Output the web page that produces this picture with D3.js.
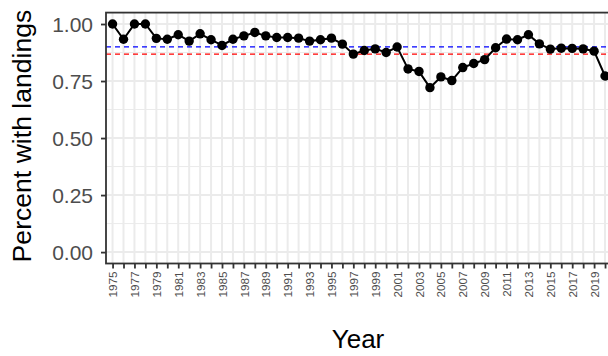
<!DOCTYPE html>
<html>
<head>
<meta charset="utf-8">
<script src="https://cdn.jsdelivr.net/npm/d3@7"></script>
<style>
  body { margin: 0; background: #fff; }
  svg { display: block; font-family: "Liberation Sans", Arial, sans-serif; }
</style>
</head>
<body>
<svg id="chart"></svg>
<script>
const width = 608;
const height = 356;

// data
const years = d3.range(1975, 2021);
const percents = [
  1.00, 0.933, 1.00, 1.00, 0.937, 0.933, 0.953, 0.925, 0.957, 0.931,
  0.906, 0.933, 0.948, 0.963, 0.948, 0.941, 0.941, 0.938, 0.925, 0.931,
  0.938, 0.912, 0.868, 0.884, 0.891, 0.875, 0.899, 0.803, 0.792, 0.721,
  0.768, 0.752, 0.809, 0.827, 0.844, 0.896, 0.934, 0.931, 0.953, 0.913,
  0.890, 0.894, 0.893, 0.891, 0.881, 0.772
];
const refLines = [
  { value: 0.900, color: '#0000ff' },
  { value: 0.868, color: '#ff0000' }
];
const yTicks = [0, 0.25, 0.5, 0.75, 1];
const yMinor = [0.125, 0.375, 0.625, 0.875];

const data = years.map((y, i) => ({ year: y, value: percents[i] }));

const panel = { left: 106, top: 12.6, right: 611.6, bottom: 263.5 };

const svg = d3.select('#chart')
  .attr('width', width)
  .attr('height', height);

const x = d3.scalePoint()
  .domain(years)
  .range([panel.left, panel.right])
  .padding(0.6);

const y = d3.scaleLinear()
  .domain([-0.05, 1.05])
  .range([panel.bottom, panel.top]);

// panel grid
const grid = svg.append('g');
grid.selectAll('.minor')
  .data(yMinor)
  .enter().append('line')
  .attr('x1', panel.left).attr('x2', panel.right)
  .attr('y1', d => y(d)).attr('y2', d => y(d))
  .attr('stroke', '#ebebeb')
  .attr('stroke-width', 1);
grid.selectAll('.hmajor')
  .data(yTicks)
  .enter().append('line')
  .attr('x1', panel.left).attr('x2', panel.right)
  .attr('y1', d => y(d)).attr('y2', d => y(d))
  .attr('stroke', '#ebebeb')
  .attr('stroke-width', 2);
grid.selectAll('.vmajor')
  .data(years)
  .enter().append('line')
  .attr('x1', d => x(d)).attr('x2', d => x(d))
  .attr('y1', panel.top).attr('y2', panel.bottom)
  .attr('stroke', '#ebebeb')
  .attr('stroke-width', 2);

// reference lines
svg.selectAll('.ref')
  .data(refLines)
  .enter().append('line')
  .attr('x1', panel.left).attr('x2', panel.right)
  .attr('y1', d => y(d.value)).attr('y2', d => y(d.value))
  .attr('stroke', d => d.color)
  .attr('stroke-width', 1.3)
  .attr('stroke-dasharray', '5,4');

// series
const line = d3.line()
  .x(d => x(d.year))
  .y(d => y(d.value));
svg.append('path')
  .datum(data)
  .attr('d', line)
  .attr('fill', 'none')
  .attr('stroke', '#000')
  .attr('stroke-width', 2);
svg.selectAll('.pt')
  .data(data)
  .enter().append('circle')
  .attr('cx', d => x(d.year))
  .attr('cy', d => y(d.value))
  .attr('r', 4.7)
  .attr('fill', '#000');

// panel border
svg.append('rect')
  .attr('x', panel.left).attr('y', panel.top)
  .attr('width', panel.right - panel.left)
  .attr('height', panel.bottom - panel.top)
  .attr('fill', 'none')
  .attr('stroke', '#333333')
  .attr('stroke-width', 1.8);

// y axis
const yAxis = svg.append('g')
  .attr('transform', `translate(${panel.left},0)`)
  .call(d3.axisLeft(y).tickValues(yTicks).tickFormat(d3.format('.2f')).tickSize(5).tickPadding(3));
yAxis.select('.domain').remove();
yAxis.selectAll('line').attr('stroke', '#333333').attr('stroke-width', 1.8);
yAxis.selectAll('text')
  .attr('fill', '#4d4d4d')
  .style('font-size', '21px')
  .attr('x', -13)
  .attr('dy', '0.36em');

// x axis
const xAxis = svg.append('g')
  .attr('transform', `translate(0,${panel.bottom})`)
  .call(d3.axisBottom(x).tickSize(5).tickFormat(d => d % 2 === 1 ? d : ''));
xAxis.select('.domain').remove();
xAxis.selectAll('line').attr('stroke', '#333333').attr('stroke-width', 1.8);
xAxis.selectAll('text')
  .attr('fill', '#4d4d4d')
  .style('font-size', '11.7px')
  .attr('text-anchor', 'end')
  .attr('transform', 'rotate(-90)')
  .attr('x', -8)
  .attr('y', 0)
  .attr('dy', '0.35em');

// axis titles
svg.append('text')
  .attr('x', 358)
  .attr('y', 348)
  .attr('text-anchor', 'middle')
  .style('font-size', '26px')
  .attr('fill', '#000')
  .text('Year');
svg.append('text')
  .attr('transform', 'translate(31,136) rotate(-90)')
  .attr('text-anchor', 'middle')
  .style('font-size', '26.6px')
  .attr('fill', '#000')
  .text('Percent with landings');
</script>
</body>
</html>
